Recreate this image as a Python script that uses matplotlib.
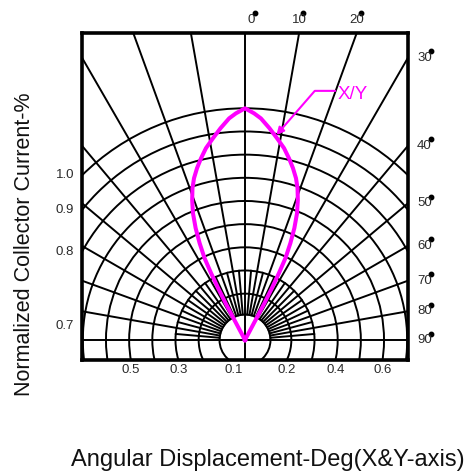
import numpy as np
import matplotlib
matplotlib.use('Agg')
import matplotlib.pyplot as plt
from matplotlib.patches import Circle
from matplotlib.transforms import offset_copy

plt.rcParams['font.family'] = ['Liberation Sans', 'DejaVu Sans']

angles = [0, 2.3, 4.1, 6.6, 9.0, 11.5, 13.6, 15.6, 17.5, 19.1, 20.7, 22.3,
          23.8, 25.1, 26.3, 26.9, 27.4, 27.8, 27.9, 28.0]
intensity = [1.0, 0.979, 0.959, 0.92, 0.882, 0.845, 0.807, 0.77, 0.732, 0.693,
             0.645, 0.592, 0.528, 0.462, 0.394, 0.324, 0.253, 0.18, 0.107, 0.0]

grid_radii = [0.11, 0.2, 0.3, 0.4, 0.5, 0.6, 0.7, 0.8, 0.9, 1.0]
top_angles = [0, 10, 20]
right_angles = [30, 40, 50, 60, 70, 80, 90]
left_values = [1.0, 0.9, 0.8, 0.7]
bottom_values = [0.5, 0.3, 0.1, 0.2, 0.4, 0.6]
bottom_sides = [-1, -1, -1, 1, 1, 1]

XMAX = 0.7035
YMIN, YMAX = -0.0863, 1.325
GRID_LW = 1.4

fig = plt.figure(figsize=(4.76, 4.72), dpi=100)
ax = fig.add_axes([82 / 476, (472 - 360) / 472, 326 / 476, 327 / 472])
ax.set_xlim(-XMAX, XMAX)
ax.set_ylim(YMIN, YMAX)
ax.set_xticks([])
ax.set_yticks([])
for sp in ax.spines.values():
    sp.set_linewidth(2.6)
    sp.set_zorder(5)

# circles
for r in grid_radii:
    ax.add_patch(Circle((0, 0), r, fill=False, lw=GRID_LW, color='black'))

# spokes
r0 = grid_radii[0]
for a in range(10, 90, 10):
    t = np.radians(a)
    for s in (-1, 1):
        ax.plot([s * r0 * np.sin(t), s * 3 * np.sin(t)], [r0 * np.cos(t), 3 * np.cos(t)],
                color='black', lw=GRID_LW)
for a in range(5, 90, 10):
    t = np.radians(a)
    for s in (-1, 1):
        ax.plot([s * r0 * np.sin(t), s * 0.3 * np.sin(t)], [r0 * np.cos(t), 0.3 * np.cos(t)],
                color='black', lw=GRID_LW)
ax.axvline(0, color='black', lw=GRID_LW)
ax.axhline(0, color='black', lw=GRID_LW)

# radiation pattern
th = np.radians(np.concatenate([-np.array(angles[::-1]), angles[1:]]))
rr = np.concatenate([intensity[::-1], intensity[1:]])
ax.plot(rr * np.sin(th), rr * np.cos(th), color='#ff00ff', lw=2.9, zorder=4,
        solid_joinstyle='round')

# X/Y callout
ta = np.radians(8.5)
ti = np.interp(8.5, angles, intensity)
ax.annotate('X/Y', xy=(ti * np.sin(ta), ti * np.cos(ta)), xytext=(62.5, 41.3),
            textcoords='offset pixels', color='#ff00ff', fontsize=13.5,
            ha='left', va='center', zorder=6,
            arrowprops=dict(arrowstyle='-|>', color='#ff00ff', lw=1.5,
                            connectionstyle='angle,angleA=0,angleB=49,rad=0',
                            shrinkA=0, shrinkB=1, relpos=(0, 0.73),
                            mutation_scale=11))

lab_color = '#2a2a2a'
dot_kw = dict(marker='o', ms=3.2, color='black', clip_on=False, ls='none')

# angle labels along top
for a in top_angles:
    x = YMAX * np.tan(np.radians(a))
    dx = 6 if a == 0 else 0
    tr = offset_copy(ax.transData, fig=fig, x=dx, y=13, units='dots')
    ax.text(x, YMAX, str(a), transform=tr, ha='center', va='center',
            fontsize=9.5, color=lab_color)
    trd = offset_copy(ax.transData, fig=fig, x=dx + 4, y=20, units='dots')
    ax.plot([x], [YMAX], transform=trd, **dot_kw)

# angle labels along right side
for a in right_angles:
    y = XMAX / np.tan(np.radians(a)) if a < 90 else 0.0
    tr = offset_copy(ax.transData, fig=fig, x=16.5, y=0, units='dots')
    ax.text(XMAX, y, str(a), transform=tr, ha='center', va='center',
            fontsize=9.5, color=lab_color)
    trd = offset_copy(ax.transData, fig=fig, x=22.5, y=6.5, units='dots')
    ax.plot([XMAX], [y], transform=trd, **dot_kw)

# intensity labels where circles meet the left edge
for v in left_values:
    y = max(np.sqrt(max(v ** 2 - XMAX ** 2, 0)), 0.06)
    tr = offset_copy(ax.transData, fig=fig, x=-8, y=0, units='dots')
    ax.text(-XMAX, y, f'{v:.1f}', transform=tr, ha='right', va='center',
            fontsize=9.5, color=lab_color)

# intensity labels where circles meet the bottom edge
for v, s in zip(bottom_values, bottom_sides):
    x = s * np.sqrt(max(v ** 2 - YMIN ** 2, 0))
    tr = offset_copy(ax.transData, fig=fig, x=0, y=-10, units='dots')
    ax.text(x, YMIN, f'{v:.1f}', transform=tr, ha='center', va='center',
            fontsize=9.5, color=lab_color)

fig.text(25 / 476, 1 - 244 / 472, 'Normalized Collector Current-%', rotation=90,
         ha='center', va='center', fontsize=15.5, color='#111111')
fig.text(267.5 / 476, 1 - 466 / 472, 'Angular Displacement-Deg(X&Y-axis)',
         ha='center', va='baseline', fontsize=17, color='#111111')

fig.savefig('out.png', dpi=100)
